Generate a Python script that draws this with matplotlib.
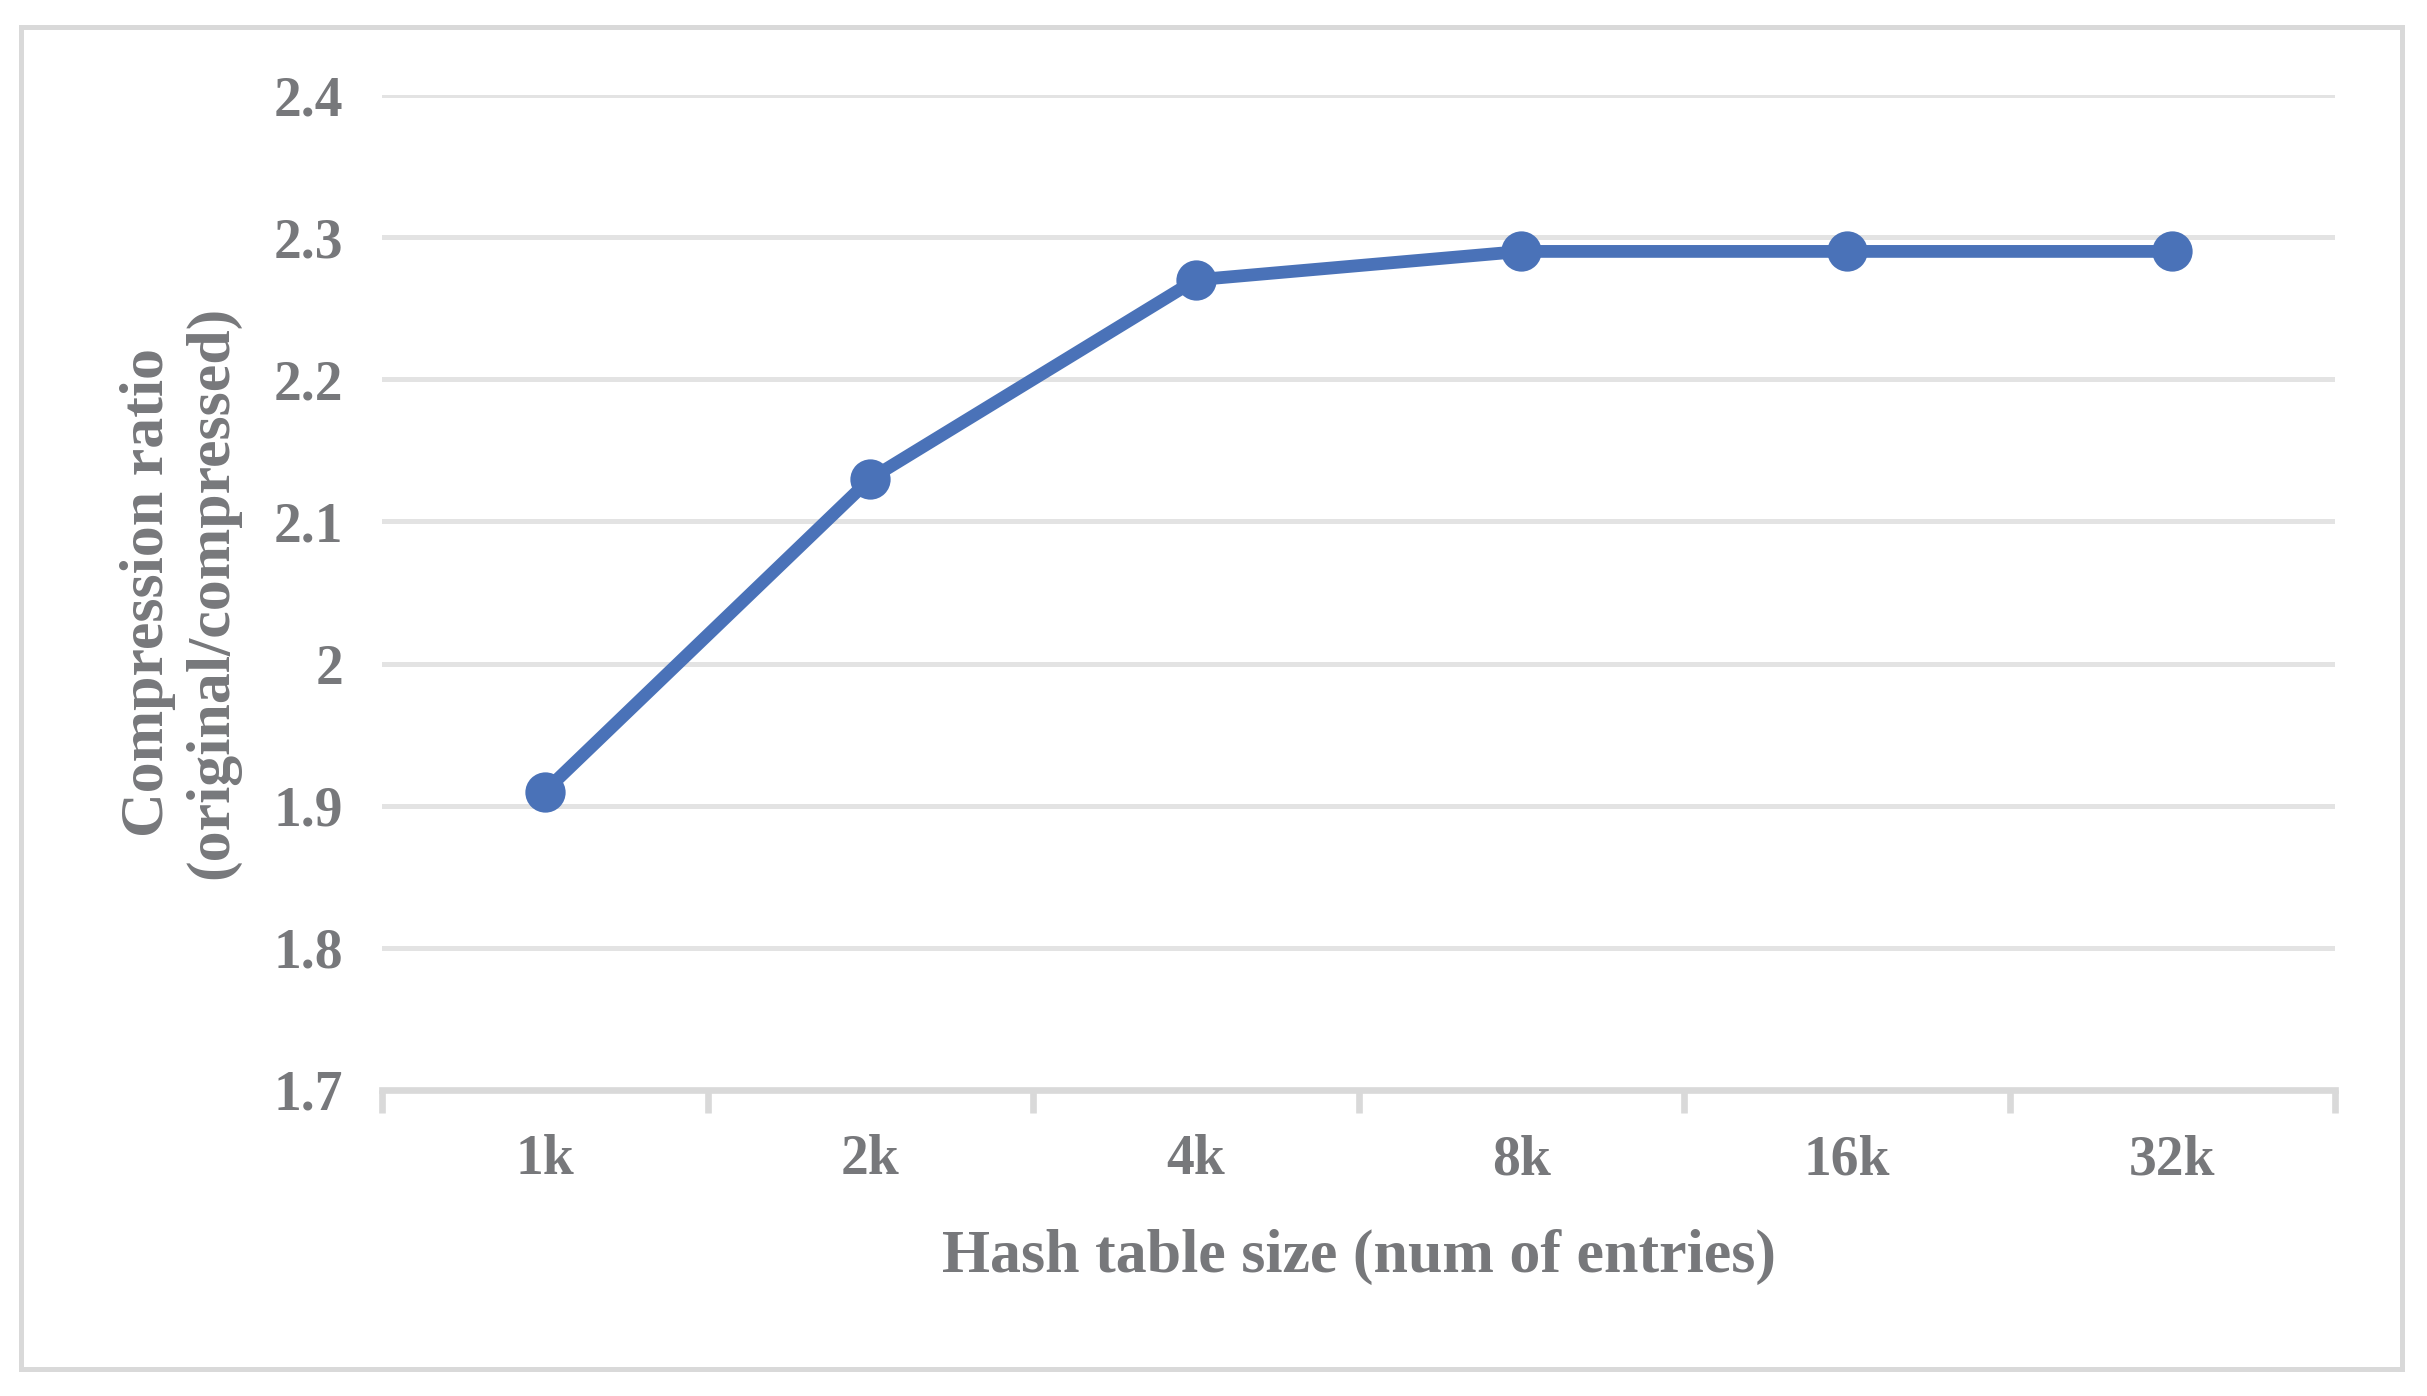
import matplotlib
matplotlib.use("Agg")
import matplotlib.pyplot as plt
from matplotlib.patches import Rectangle


table_sizes = ["1k", "2k", "4k", "8k", "16k", "32k"]
compression_ratio = [1.91, 2.13, 2.27, 2.29, 2.29, 2.29]
y_ticks = [1.7, 1.8, 1.9, 2.0, 2.1, 2.2, 2.3, 2.4]
y_tick_labels = ["1.7", "1.8", "1.9", "2", "2.1", "2.2", "2.3", "2.4"]

TEXT = "#77787b"
GRID = "#e3e3e3"
AXIS = "#d9d9d9"
BLUE = "#4a72b8"

plt.rcParams["font.family"] = ["Liberation Serif", "DejaVu Serif"]
plt.rcParams["font.weight"] = "bold"

fig = plt.figure(figsize=(12.135, 6.98), dpi=200)
fig.patch.set_facecolor("white")

# outer chart border
fig.patches.append(
    Rectangle((0.0085, 0.0193), 0.981, 0.9614, transform=fig.transFigure,
              fill=False, edgecolor=AXIS, linewidth=1.8)
)

ax = fig.add_axes([0.1574, 0.2192, 0.8047, 0.7127])
x = list(range(len(table_sizes)))
ax.plot(x, compression_ratio, color=BLUE, linewidth=4.6, marker="o",
        markersize=13.5, zorder=3)

ax.set_xlim(-0.5, len(table_sizes) - 0.5)
ax.set_ylim(1.7, 2.4)
ax.set_yticks(y_ticks)
ax.set_yticklabels(y_tick_labels)
ax.set_xticks(x)
ax.set_xticklabels(table_sizes)
ax.set_xticks([i - 0.5 for i in range(len(table_sizes) + 1)], minor=True)

ax.grid(axis="y", color=GRID, linewidth=1.8, zorder=0)
ax.set_axisbelow(True)
for side in ["top", "right", "left"]:
    ax.spines[side].set_visible(False)
ax.spines["bottom"].set_color(AXIS)
ax.spines["bottom"].set_linewidth(2.4)

ax.tick_params(axis="y", length=0, pad=14, labelsize=20, labelcolor=TEXT)
ax.tick_params(axis="x", which="major", length=0, pad=16, labelsize=20,
               labelcolor=TEXT)
ax.tick_params(axis="x", which="minor", length=8.3, width=2.4, color=AXIS)

ax.set_xlabel("Hash table size (num of entries)", fontsize=22.3, color=TEXT,
              fontweight="bold")
ax.xaxis.set_label_coords(0.5, -0.168)
ax.xaxis.label.set_verticalalignment("center")

ax.set_ylabel("Compression ratio\n(original/compressed)", fontsize=22.3,
              color=TEXT, fontweight="bold", linespacing=1.18)
ax.yaxis.set_label_coords(-0.1034, 0.5)
ax.yaxis.label.set_verticalalignment("center")

fig.savefig("out.png", dpi=200, facecolor="white")
